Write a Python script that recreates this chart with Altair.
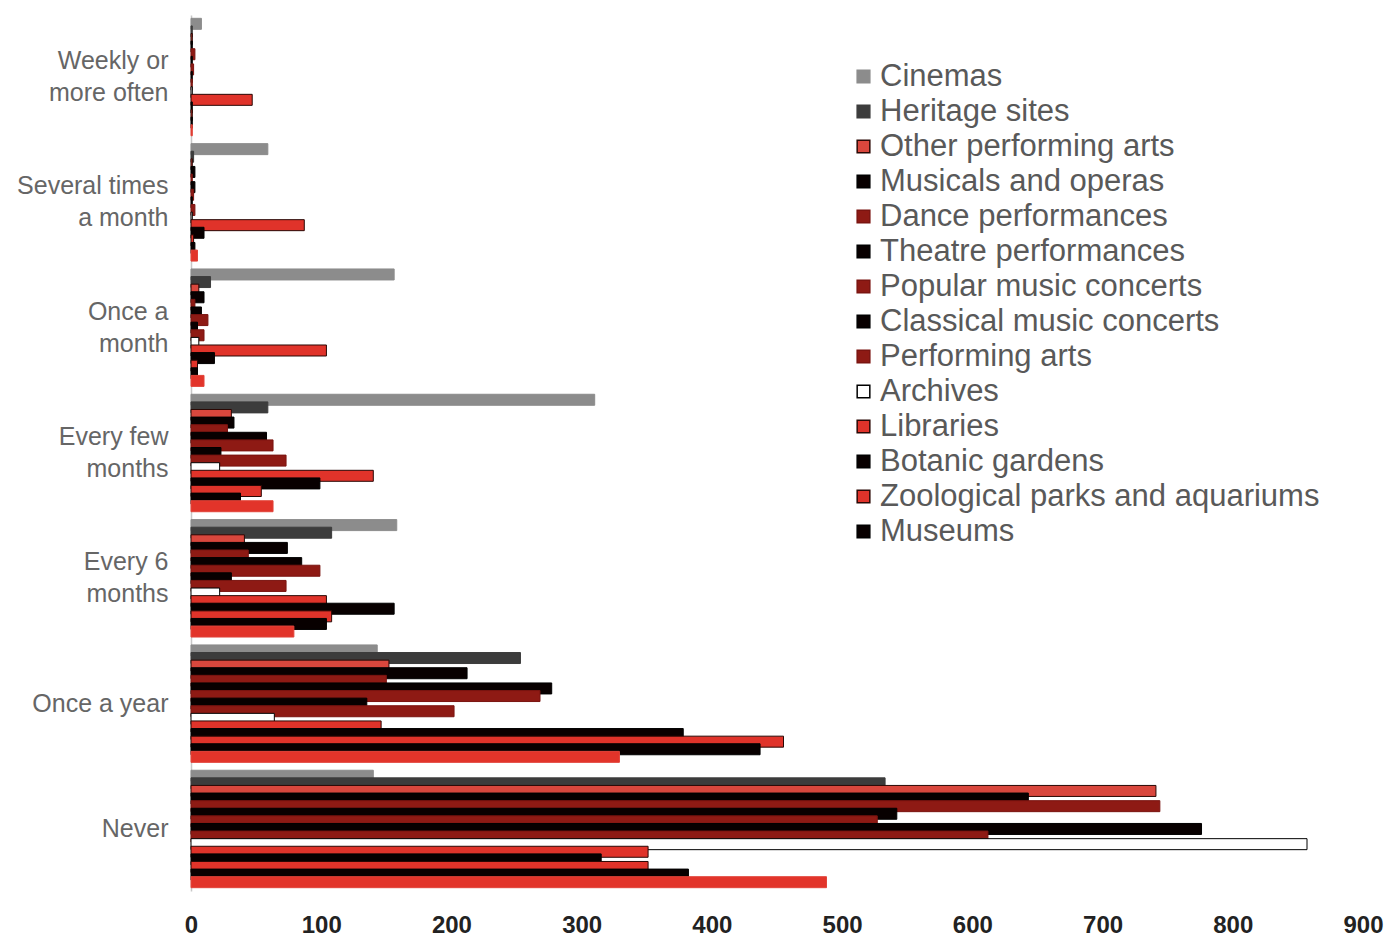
import altair as alt
import pandas as pd

# Frequency of attendance (y categories, top to bottom)
categories = [
    "Weekly or\nmore often",
    "Several times\na month",
    "Once a\nmonth",
    "Every few\nmonths",
    "Every 6\nmonths",
    "Once a year",
    "Never",
]

# Venue series, in the order they are stacked inside each group (top to bottom)
series = [
    "Cinemas",
    "Heritage sites",
    "Other performing arts",
    "Musicals and operas",
    "Dance performances",
    "Theatre performances",
    "Popular music concerts",
    "Classical music concerts",
    "Performing arts",
    "Archives",
    "Libraries",
    "Botanic gardens",
    "Zoological parks and aquariums",
    "Museums",
    "Other venues",
]
legend_series = series[:14]

# Respondent counts per series, one value per category
cinemas = [8, 59, 156, 310, 158, 143, 140]
heritage = [1, 2, 15, 59, 108, 253, 533]
other_performing = [1, 1, 6, 31, 41, 152, 741]
musicals = [1, 3, 10, 33, 74, 212, 643]
dance = [3, 1, 3, 28, 44, 150, 744]
theatre = [1, 3, 8, 58, 85, 277, 542]
popular = [2, 2, 13, 63, 99, 268, 527]
classical = [1, 1, 5, 23, 31, 135, 776]
performing = [1, 3, 10, 73, 73, 202, 612]
archives = [1, 1, 6, 22, 22, 64, 857]
libraries = [47, 87, 104, 140, 104, 146, 351]
botanic = [1, 10, 18, 99, 156, 378, 315]
zoo = [1, 2, 5, 54, 108, 455, 351]
museums = [1, 3, 5, 38, 104, 437, 382]
other_venues = [1, 5, 10, 63, 79, 329, 488]

values = [cinemas, heritage, other_performing, musicals, dance, theatre,
          popular, classical, performing, archives, libraries, botanic,
          zoo, museums, other_venues]

fills = ["#8c8c8c", "#3c3c3c", "#d9473d", "#080000", "#8e1a14", "#080000",
         "#8e1a14", "#080000", "#8e1a14", "#ffffff", "#e0332a", "#080000",
         "#e0332a", "#080000", "#e2342a"]
strokes = ["#8c8c8c", "#3c3c3c", "#2a0805", "#000000", "#7a1410", "#000000",
           "#7a1410", "#000000", "#7a1410", "#000000", "#2a0805", "#000000",
           "#2a0805", "#000000", "#e2443a"]

rows = []
for ci, cat in enumerate(categories):
    for si, name in enumerate(series):
        rows.append({"category": cat, "series": name, "value": values[si][ci]})
df = pd.DataFrame(rows)

legend_kw = dict(
    values=legend_series,
    title=None,
    orient="none",
    legendX=657,
    legendY=46,
    symbolType="square",
    symbolSize=160,
    symbolStrokeWidth=1.5,
    labelFont="Liberation Sans",
    labelFontSize=31,
    labelColor="#595959",
    labelOffset=1,
    rowPadding=3,
    labelLimit=600,
)

chart = (
    alt.Chart(df)
    .mark_bar(size=11, strokeWidth=1)
    .encode(
        x=alt.X(
            "value:Q",
            stack=None,
            scale=alt.Scale(domain=[0, 900], nice=False),
            axis=alt.Axis(
                values=list(range(0, 901, 100)),
                title=None,
                grid=False,
                ticks=False,
                domain=False,
                labelFont="Liberation Sans",
                labelFontSize=24,
                labelFontWeight="bold",
                labelColor="#222222",
                labelPadding=22,
                labelFlush=False,
            ),
        ),
        y=alt.Y(
            "category:N",
            sort=categories,
            scale=alt.Scale(paddingInner=0.09, paddingOuter=0.04),
            axis=alt.Axis(
                title=None,
                ticks=False,
                domainColor="#c8c8c8",
                domainWidth=1.5,
                labelExpr="split(datum.value, '\\n')",
                labelFont="Liberation Sans",
                labelFontSize=25,
                labelColor="#666666",
                labelLineHeight=32,
                labelPadding=23,
                labelAlign="right",
                labelOffset={
                    "condition": {
                        "test": "indexof(datum.value, '\\n') >= 0",
                        "value": -16,
                    },
                    "value": 0,
                },
            ),
        ),
        yOffset=alt.YOffset(
            "series:N",
            sort=series,
            scale=alt.Scale(domain=series, paddingInner=0, paddingOuter=0),
        ),
        fill=alt.Fill(
            "series:N",
            scale=alt.Scale(domain=series, range=fills),
            legend=alt.Legend(**legend_kw),
        ),
        stroke=alt.Stroke(
            "series:N",
            scale=alt.Scale(domain=series, range=strokes),
            legend=alt.Legend(**legend_kw),
        ),
    )
    .properties(
        width=1172,
        height=876,
        padding={"left": 191, "top": 15, "right": 26, "bottom": 49},
        autosize=alt.AutoSizeParams(type="none"),
    )
    .configure(background="white", view=alt.ViewConfig(stroke=None))
)

chart.save("out.html", embed_options={"renderer": "svg", "actions": False})
